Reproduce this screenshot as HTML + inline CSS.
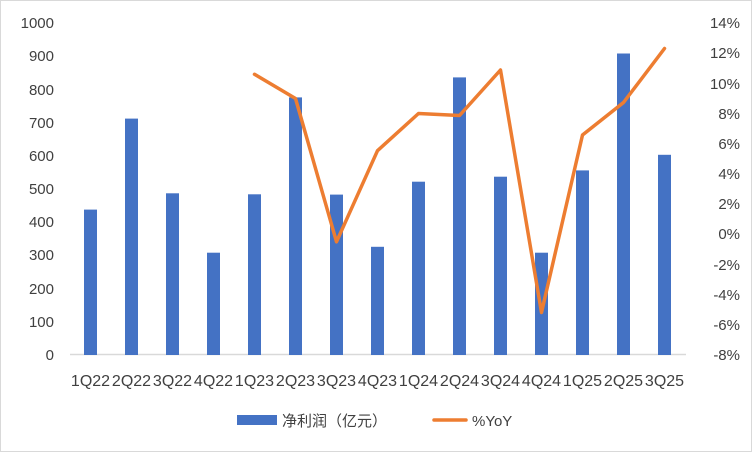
<!DOCTYPE html>
<html><head><meta charset="utf-8"><style>body{margin:0;background:#fff}svg{display:block}</style></head><body>
<svg width="752" height="452" xmlns="http://www.w3.org/2000/svg" font-family="Liberation Sans, Noto Sans CJK SC, sans-serif" font-size="15" fill="#404040">
<rect x="0.5" y="0.5" width="751" height="451" fill="#fff" stroke="#d9d9d9"/>
<g text-anchor="end">
<text x="54" y="360">0</text><text x="54" y="327">100</text><text x="54" y="294">200</text><text x="54" y="260">300</text><text x="54" y="227">400</text><text x="54" y="194">500</text><text x="54" y="161">600</text><text x="54" y="128">700</text><text x="54" y="95">800</text><text x="54" y="61">900</text><text x="54" y="28">1000</text>
</g>
<g text-anchor="end">
<text x="740" y="28">14%</text><text x="740" y="58">12%</text><text x="740" y="89">10%</text><text x="740" y="119">8%</text><text x="740" y="149">6%</text><text x="740" y="179">4%</text><text x="740" y="209">2%</text><text x="740" y="239">0%</text><text x="740" y="270">-2%</text><text x="740" y="300">-4%</text><text x="740" y="330">-6%</text><text x="740" y="360">-8%</text>
</g>
<line x1="70" y1="354.5" x2="686" y2="354.5" stroke="#d9d9d9" stroke-width="1.5"/>
<g fill="#4472c4">
<rect x="84" y="209.6" width="13" height="145.4"/>
<rect x="125" y="118.6" width="13" height="236.4"/>
<rect x="166" y="193.3" width="13" height="161.7"/>
<rect x="207" y="252.7" width="13" height="102.3"/>
<rect x="248" y="194.3" width="13" height="160.7"/>
<rect x="289" y="97.4" width="13" height="257.6"/>
<rect x="330" y="194.6" width="13" height="160.4"/>
<rect x="371" y="246.8" width="13" height="108.2"/>
<rect x="412" y="181.7" width="13" height="173.3"/>
<rect x="453" y="77.4" width="13" height="277.6"/>
<rect x="494" y="176.7" width="13" height="178.3"/>
<rect x="535" y="252.7" width="13" height="102.3"/>
<rect x="576" y="170.4" width="13" height="184.6"/>
<rect x="617" y="53.5" width="13" height="301.5"/>
<rect x="658" y="154.8" width="13" height="200.2"/>
</g>
<polyline fill="none" stroke="#ed7d31" stroke-width="3.5" stroke-linejoin="round" stroke-linecap="round" points="254.5,74.3 295.5,98.5 336.5,241.8 377.5,150.7 418.5,113.5 459.5,115.5 500.5,70 541.5,312.5 582.5,135 623.5,102.5 664.5,48.5"/>
<g text-anchor="middle" font-size="16">
<text x="90.5" y="386">1Q22</text><text x="131.5" y="386">2Q22</text><text x="172.5" y="386">3Q22</text><text x="213.5" y="386">4Q22</text><text x="254.5" y="386">1Q23</text><text x="295.5" y="386">2Q23</text><text x="336.5" y="386">3Q23</text><text x="377.5" y="386">4Q23</text><text x="418.5" y="386">1Q24</text><text x="459.5" y="386">2Q24</text><text x="500.5" y="386">3Q24</text><text x="541.5" y="386">4Q24</text><text x="582.5" y="386">1Q25</text><text x="623.5" y="386">2Q25</text><text x="664.5" y="386">3Q25</text>
</g>
<rect x="237" y="415" width="40" height="10" fill="#4472c4"/>
<text x="282" y="426">净利润（亿元）</text>
<line x1="434" y1="420" x2="466" y2="420" stroke="#ed7d31" stroke-width="3.5" stroke-linecap="round"/>
<text x="472" y="426">%YoY</text>
</svg>
</body></html>
